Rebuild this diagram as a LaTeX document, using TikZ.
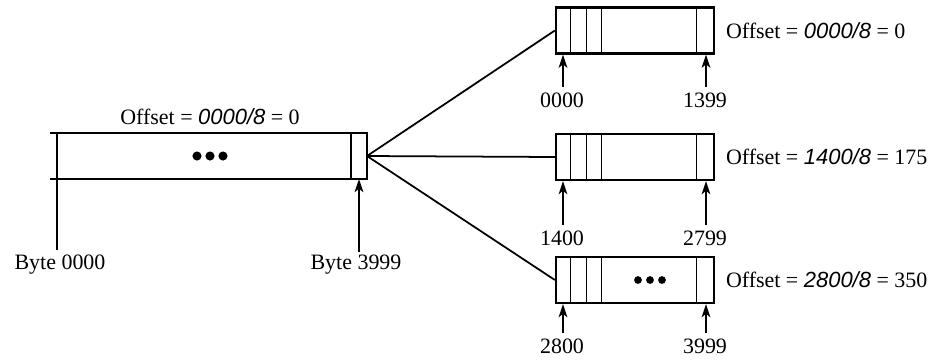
\documentclass[tikz,border=0pt]{standalone}
\usepackage{fontspec}
\setmainfont{Liberation Serif}
\setsansfont{Liberation Sans}
\usetikzlibrary{arrows.meta,positioning,calc}

\newcommand{\offsetfrac}[1]{\textsf{\itshape #1/8}}

\begin{document}
\begin{tikzpicture}[
    x=0.02cm, y=-0.02cm,
    frag/.style={draw, line width=1.3pt, minimum width=3.16cm, minimum height=0.92cm, inner sep=0pt},
    divider/.style={line width=0.7pt},
    fan/.style={line width=1pt},
    up/.style={-{Stealth[length=7.5pt,width=5pt,inset=2pt]}, line width=0.9pt},
    lbl/.style={font=\fontsize{12.5}{14}\selectfont, inner sep=1pt}
    ]
    \useasboundingbox (0,0) rectangle (938,360);

    % original datagram
    \draw[line width=1.3pt] (50,133) -- (367,133) -- (367,179) -- (50,179);
    \draw[divider] (351,133) -- (351,179);
    \draw[line width=1.3pt] (57,133) -- (57,250);
    \coordinate (dgram) at (367,156);
    \foreach \i in {-1,0,1}
        \fill (210+13*\i,156) circle (2.6pt);

    \node[lbl] (off0) at (210,117) {Offset = \offsetfrac{0000} = 0};
    \node[lbl] (b0) at (60,265) {Byte 0000};
    \node[lbl] (b1) at (356,265) {Byte 3999};
    \draw[up] ([yshift=1pt]b1.north -| 359,0) -- (359,179);

    % fragments
    \node[frag] (f1) at (635,30.5) {};
    \node[frag] (f2) at (635,157) {};
    \node[frag] (f3) at (635,280) {};

    \foreach \f in {f1,f2,f3}
        \foreach \d in {16,32,47,142}
            \draw[divider] ($(\f.north west)+(\d,0)$) -- ($(\f.south west)+(\d,0)$);
    \foreach \i in {-1,0,1}
        \fill (650+12*\i,280) circle (2.2pt);

    \draw[fan] (dgram) -- (f1.west);
    \draw[fan] (dgram) -- (f2.west);
    \draw[fan] (dgram) -- (f3.west);

    \node[lbl, right=5pt of f1] (off1) {Offset = \offsetfrac{0000} = 0};
    \node[lbl, right=5pt of f2] (off2) {Offset = \offsetfrac{1400} = 175};
    \node[lbl, right=5pt of f3] (off3) {Offset = \offsetfrac{2800} = 350};

    \node[lbl] (s1) at (562,100) {0000};
    \node[lbl] (e1) at (705,100) {1399};
    \node[lbl] (s2) at (562,238) {1400};
    \node[lbl] (e2) at (705,238) {2799};
    \node[lbl] (s3) at (562,346) {2800};
    \node[lbl] (e3) at (705,346) {3999};

    \draw[up] ([yshift=2pt]s1.north -| 563,0) -- (f1.south -| 563,0);
    \draw[up] ([yshift=2pt]e1.north -| 706,0) -- (f1.south -| 706,0);
    \draw[up] ([yshift=2pt]s2.north -| 563,0) -- (f2.south -| 563,0);
    \draw[up] ([yshift=2pt]e2.north -| 706,0) -- (f2.south -| 706,0);
    \draw[up] ([yshift=2pt]s3.north -| 563,0) -- (f3.south -| 563,0);
    \draw[up] ([yshift=2pt]e3.north -| 706,0) -- (f3.south -| 706,0);

\end{tikzpicture}
\end{document}
